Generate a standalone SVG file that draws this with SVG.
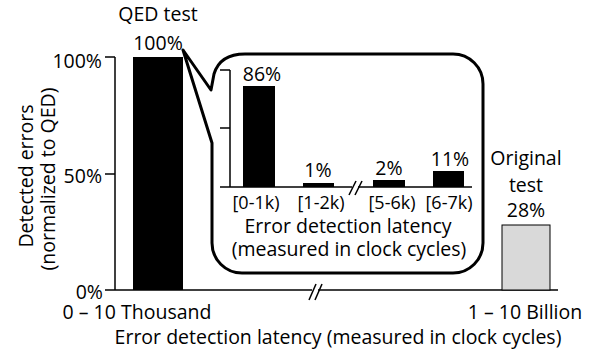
<svg xmlns="http://www.w3.org/2000/svg" width="597" height="353" viewBox="0 0 597 353">
<style>
text{font-family:"Open Sans","Noto Sans","Liberation Sans",sans-serif;font-size:19.5px;fill:#000;text-anchor:middle}
.r{text-anchor:end}
.s{font-size:18px}
.ax{stroke:#000;stroke-width:1.5;fill:none}
.bar{fill:#000}
</style>
<rect width="597" height="353" fill="#fff"/>
<g id="main-axes">
<line class="ax" x1="115" y1="57" x2="115" y2="290"/>
<line class="ax" x1="105" y1="57" x2="115" y2="57"/>
<line class="ax" x1="105" y1="174" x2="115" y2="174"/>
<line class="ax" x1="105" y1="290" x2="558" y2="290"/>
<rect x="312" y="286" width="6" height="8" fill="#fff"/>
<line class="ax" x1="309" y1="300" x2="316" y2="284"/>
<line class="ax" x1="315" y1="300" x2="322" y2="284"/>
<text class="r" x="102" y="68">100%</text>
<text class="r" x="102" y="183">50%</text>
<text class="r" x="103" y="299">0%</text>
<text transform="translate(33,176) rotate(-90)">Detected errors</text>
<text transform="translate(55,179) rotate(-90)">(normalized to QED)</text>
<text x="137" y="319">0 – 10 Thousand</text>
<text x="525" y="319">1 – 10 Billion</text>
<text x="338" y="344">Error detection latency (measured in clock cycles)</text>
</g>
<g id="qed-bar">
<rect class="bar" x="133" y="57" width="50" height="233"/>
<text x="158" y="21">QED test</text>
<text x="158" y="50">100%</text>
</g>
<g id="original-bar">
<rect x="502" y="225" width="48" height="65" fill="#d9d9d9" stroke="#000" stroke-width="1"/>
<text x="526" y="165">Original</text>
<text x="526" y="192">test</text>
<text x="526" y="217">28%</text>
</g>
<g id="callout">
<path d="M183,50 L211,90 L214,74 Q220,54 245,54 L453,54 A30 30 0 0 1 483,84 L483,243 A30 30 0 0 1 453,273 L242,273 A30 30 0 0 1 212,243 L212,143 Z" fill="#fff" stroke="#000" stroke-width="3" stroke-linejoin="round"/>
<line class="ax" x1="230" y1="70" x2="230" y2="187"/>
<line class="ax" x1="220" y1="70" x2="230" y2="70"/>
<line class="ax" x1="220" y1="128" x2="230" y2="128"/>
<line class="ax" x1="220" y1="187" x2="472" y2="187"/>
<rect x="352" y="183" width="6" height="8" fill="#fff"/>
<line class="ax" x1="349" y1="195" x2="356" y2="181"/>
<line class="ax" x1="355" y1="195" x2="362" y2="181"/>
<rect class="bar" x="243" y="86" width="32" height="101"/>
<rect class="bar" x="303" y="183" width="31" height="4"/>
<rect class="bar" x="373" y="180" width="32" height="7"/>
<rect class="bar" x="433" y="171" width="31" height="16"/>
<text x="262" y="81">86%</text>
<text x="318" y="177">1%</text>
<text x="389" y="175">2%</text>
<text x="450" y="166">11%</text>
<text class="s" x="256" y="209">[0-1k)</text>
<text class="s" x="321" y="209">[1-2k)</text>
<text class="s" x="392" y="209">[5-6k)</text>
<text class="s" x="449" y="209">[6-7k)</text>
<text x="348" y="233">Error detection latency</text>
<text x="349" y="256">(measured in clock cycles)</text>
</g>
</svg>
